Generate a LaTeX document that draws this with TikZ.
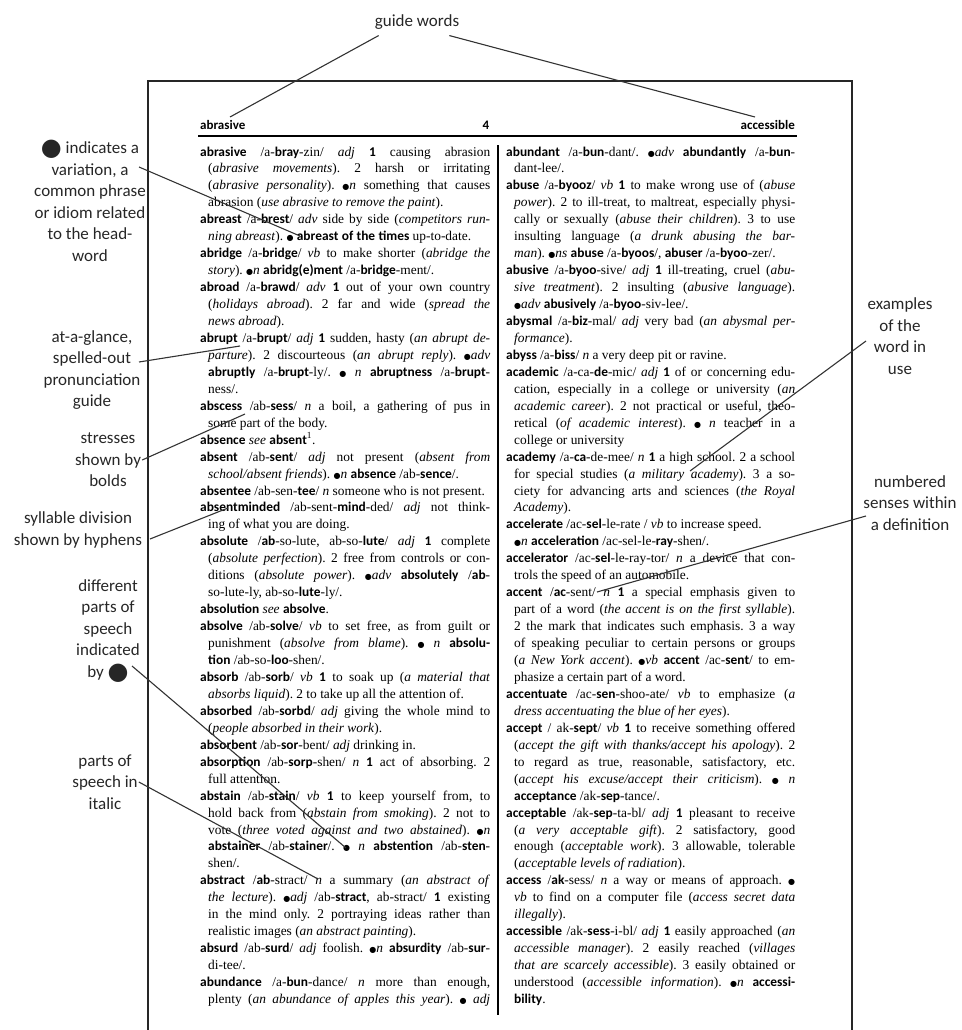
\documentclass[tikz,border=0pt]{standalone}
\usepackage{fontspec}
\setmainfont{Liberation Serif}
\setsansfont{Carlito}
\newfontfamily\symfont{DejaVu Sans}
\usetikzlibrary{positioning,calc}

\newdimen\colw
\newdimen\indw
\newcommand{\hw}[1]{{\sffamily\bfseries #1}}
\newcommand{\ps}[1]{\textit{#1}}
\newcommand{\ex}[1]{\textit{#1}}
\newcommand{\dt}{{\symfont\fontsize{8}{8}\selectfont ●}}
\newcommand{\fitline}[2]{\setbox0=\hbox{#2}%
  \ifdim\wd0>\colw\hbox{\resizebox{\colw}{\height}{\box0}}%
  \else\hbox to\colw{\unhbox0#1}\fi}
\newcommand{\LnF}[1]{\fitline{}{#1}}
\newcommand{\LnC}[1]{\fitline{}{\hskip\indw #1}}
\newcommand{\LnE}[1]{\fitline{\hfil}{\hskip\indw #1}}
\newcommand{\LnO}[1]{\fitline{\hfil}{#1}}
\newcommand{\bodyfont}{\fontsize{13.4}{16.95}\selectfont\frenchspacing
  \spaceskip=.25em plus .8em minus .08em\relax
  \lineskip=0pt\lineskiplimit=-100pt\indw=8pt}
\newcommand{\bigdot}{\raisebox{-2pt}{\fontsize{24}{10}\selectfont\symfont ●}}

\begin{document}
\begin{tikzpicture}[
    x=1pt, y=-1pt,
    frame/.style={line width=1.3pt, black!85},
    leader/.style={line width=1.1pt, black!80},
    lbl/.style={font=\fontsize{17}{21.5}\selectfont\sffamily, align=center, text=black!85, inner sep=0pt},
    guideword/.style={font=\fontsize{13}{15}\selectfont\sffamily\bfseries, inner sep=0pt},
    column/.style={inner sep=0pt, anchor=base west}
]
\useasboundingbox (0,0) rectangle (961,1030);

\draw[frame] (148,1030) -- (148,81) -- (852,81) -- (852,1030);

\node[guideword, anchor=base west] (gwl) at (200,130) {abrasive};
\node[guideword, anchor=base] (pgno) at (486,130) {4};
\node[guideword, anchor=base east] (gwr) at (795,130) {accessible};
\draw[line width=1.4pt] (198,136) -- (797,136);
\draw[line width=1.2pt] (498,145) -- (498,1015);

\node[column] (lcol) at (200,156) {\vtop{\bodyfont\colw=290pt
\LnF{\hw{abrasive} /a-\hw{bray}-zin/ \ps{adj} \hw{1} causing abrasion}
\LnC{(\ex{abrasive movements}). 2 harsh or irritating}
\LnC{(\ex{abrasive personality}). \dt\ps{n} something that causes}
\LnE{abrasion (\ex{use abrasive to remove the paint}).}
\LnF{\hw{abreast} /a-\hw{brest}/ \ps{adv} side by side (\ex{competitors run-}}
\LnE{\ex{ning abreast}). \dt\ \hw{abreast of the times} up-to-date.}
\LnF{\hw{abridge} /a-\hw{bridge}/ \ps{vb} to make shorter (\ex{abridge the}}
\LnE{\ex{story}). \dt\ps{n} \hw{abridg(e)ment} /a-\hw{bridge}-ment/.}
\LnF{\hw{abroad} /a-\hw{brawd}/ \ps{adv} \hw{1} out of your own country}
\LnC{(\ex{holidays abroad}). 2 far and wide (\ex{spread the}}
\LnE{\ex{news abroad}).}
\LnF{\hw{abrupt} /a-\hw{brupt}/ \ps{adj} \hw{1} sudden, hasty (\ex{an abrupt de-}}
\LnC{\ex{parture}). 2 discourteous (\ex{an abrupt reply}). \dt\ps{adv}}
\LnC{\hw{abruptly} /a-\hw{brupt}-ly/. \dt\ \ps{n} \hw{abruptness} /a-\hw{brupt}-}
\LnE{ness/.}
\LnF{\hw{abscess} /ab-\hw{sess}/ \ps{n} a boil, a gathering of pus in}
\LnE{some part of the body.}
\LnO{\hw{absence} \ps{see} \hw{absent}\textsuperscript{1}.}
\LnF{\hw{absent} /ab-\hw{sent}/ \ps{adj} not present (\ex{absent from}}
\LnE{\ex{school/absent friends}). \dt\ps{n} \hw{absence} /ab-\hw{sence}/.}
\LnO{\hw{absentee} /ab-sen-\hw{tee}/ \ps{n} someone who is not present.}
\LnF{\hw{absentminded} /ab-sent-\hw{mind}-ded/ \ps{adj} not think-}
\LnE{ing of what you are doing.}
\LnF{\hw{absolute} /\hw{ab}-so-lute, ab-so-\hw{lute}/ \ps{adj} \hw{1} complete}
\LnC{(\ex{absolute perfection}). 2 free from controls or con-}
\LnC{ditions (\ex{absolute power}). \dt\ps{adv} \hw{absolutely} /\hw{ab}-}
\LnE{so-lute-ly, ab-so-\hw{lute}-ly/.}
\LnO{\hw{absolution} \ps{see} \hw{absolve}.}
\LnF{\hw{absolve} /ab-\hw{solve}/ \ps{vb} to set free, as from guilt or}
\LnC{punishment (\ex{absolve from blame}). \dt\ \ps{n} \hw{absolu-}}
\LnE{\hw{tion} /ab-so-\hw{loo}-shen/.}
\LnF{\hw{absorb} /ab-\hw{sorb}/ \ps{vb} \hw{1} to soak up (\ex{a material that}}
\LnE{\ex{absorbs liquid}). 2 to take up all the attention of.}
\LnF{\hw{absorbed} /ab-\hw{sorbd}/ \ps{adj} giving the whole mind to}
\LnE{(\ex{people absorbed in their work}).}
\LnO{\hw{absorbent} /ab-\hw{sor}-bent/ \ps{adj} drinking in.}
\LnF{\hw{absorption} /ab-\hw{sorp}-shen/ \ps{n} \hw{1} act of absorbing. 2}
\LnE{full attention.}
\LnF{\hw{abstain} /ab-\hw{stain}/ \ps{vb} \hw{1} to keep yourself from, to}
\LnC{hold back from (\ex{abstain from smoking}). 2 not to}
\LnC{vote (\ex{three voted against and two abstained}). \dt\ps{n}}
\LnC{\hw{abstainer} /ab-\hw{stainer}/. \dt\ \ps{n} \hw{abstention} /ab-\hw{sten}-}
\LnE{shen/.}
\LnF{\hw{abstract} /\hw{ab}-stract/ \ps{n} a summary (\ex{an abstract of}}
\LnC{\ex{the lecture}). \dt\ps{adj} /ab-\hw{stract}, ab-stract/ \hw{1} existing}
\LnC{in the mind only. 2 portraying ideas rather than}
\LnE{realistic images (\ex{an abstract painting}).}
\LnF{\hw{absurd} /ab-\hw{surd}/ \ps{adj} foolish. \dt\ps{n} \hw{absurdity} /ab-\hw{sur}-}
\LnE{di-tee/.}
\LnF{\hw{abundance} /a-\hw{bun}-dance/ \ps{n} more than enough,}
\LnC{plenty (\ex{an abundance of apples this year}). \dt\ \ps{adj}}
}};

\node[column] (rcol) at (506,156) {\vtop{\bodyfont\colw=289pt
\LnF{\hw{abundant} /a-\hw{bun}-dant/. \dt\ps{adv} \hw{abundantly} /a-\hw{bun}-}
\LnE{dant-lee/.}
\LnF{\hw{abuse} /a-\hw{byooz}/ \ps{vb} \hw{1} to make wrong use of (\ex{abuse}}
\LnC{\ex{power}). 2 to ill-treat, to maltreat, especially physi-}
\LnC{cally or sexually (\ex{abuse their children}). 3 to use}
\LnC{insulting language (\ex{a drunk abusing the bar-}}
\LnE{\ex{man}). \dt\ps{ns} \hw{abuse} /a-\hw{byoos}/, \hw{abuser} /a-\hw{byoo}-zer/.}
\LnF{\hw{abusive} /a-\hw{byoo}-sive/ \ps{adj} \hw{1} ill-treating, cruel (\ex{abu-}}
\LnC{\ex{sive treatment}). 2 insulting (\ex{abusive language}).}
\LnE{\dt\ps{adv} \hw{abusively} /a-\hw{byoo}-siv-lee/.}
\LnF{\hw{abysmal} /a-\hw{biz}-mal/ \ps{adj} very bad (\ex{an abysmal per-}}
\LnE{\ex{formance}).}
\LnO{\hw{abyss} /a-\hw{biss}/ \ps{n} a very deep pit or ravine.}
\LnF{\hw{academic} /a-ca-\hw{de}-mic/ \ps{adj} \hw{1} of or concerning edu-}
\LnC{cation, especially in a college or university (\ex{an}}
\LnC{\ex{academic career}). 2 not practical or useful, theo-}
\LnC{retical (\ex{of academic interest}). \dt\ \ps{n} teacher in a}
\LnE{college or university}
\LnF{\hw{academy} /a-\hw{ca}-de-mee/ \ps{n} \hw{1} a high school. 2 a school}
\LnC{for special studies (\ex{a military academy}). 3 a so-}
\LnC{ciety for advancing arts and sciences (\ex{the Royal}}
\LnE{\ex{Academy}).}
\LnO{\hw{accelerate} /ac-\hw{sel}-le-rate / \ps{vb} to increase speed.}
\LnE{\dt\ps{n} \hw{acceleration} /ac-sel-le-\hw{ray}-shen/.}
\LnF{\hw{accelerator} /ac-\hw{sel}-le-ray-tor/ \ps{n} a device that con-}
\LnE{trols the speed of an automobile.}
\LnF{\hw{accent} /\hw{ac}-sent/ \ps{n} \hw{1} a special emphasis given to}
\LnC{part of a word (\ex{the accent is on the first syllable}).}
\LnC{2 the mark that indicates such emphasis. 3 a way}
\LnC{of speaking peculiar to certain persons or groups}
\LnC{(\ex{a New York accent}). \dt\ps{vb} \hw{accent} /ac-\hw{sent}/ to em-}
\LnE{phasize a certain part of a word.}
\LnF{\hw{accentuate} /ac-\hw{sen}-shoo-ate/ \ps{vb} to emphasize (\ex{a}}
\LnE{\ex{dress accentuating the blue of her eyes}).}
\LnF{\hw{accept} / ak-\hw{sept}/ \ps{vb} \hw{1} to receive something offered}
\LnC{(\ex{accept the gift with thanks/accept his apology}). 2}
\LnC{to regard as true, reasonable, satisfactory, etc.}
\LnC{(\ex{accept his excuse/accept their criticism}). \dt\ \ps{n}}
\LnE{\hw{acceptance} /ak-\hw{sep}-tance/.}
\LnF{\hw{acceptable} /ak-\hw{sep}-ta-bl/ \ps{adj} \hw{1} pleasant to receive}
\LnC{(\ex{a very acceptable gift}). 2 satisfactory, good}
\LnC{enough (\ex{acceptable work}). 3 allowable, tolerable}
\LnE{(\ex{acceptable levels of radiation}).}
\LnF{\hw{access} /\hw{ak}-sess/ \ps{n} a way or means of approach. \dt}
\LnC{\ps{vb} to find on a computer file (\ex{access secret data}}
\LnE{\ex{illegally}).}
\LnF{\hw{accessible} /ak-\hw{sess}-i-bl/ \ps{adj} \hw{1} easily approached (\ex{an}}
\LnC{\ex{accessible manager}). 2 easily reached (\ex{villages}}
\LnC{\ex{that are scarcely accessible}). 3 easily obtained or}
\LnC{understood (\ex{accessible information}). \dt\ps{n} \hw{accessi-}}
\LnE{\hw{bility}.}
}};

\node[lbl] (guide) at (417,22) {guide words};
\node[lbl] (indic) at (90,201) {\bigdot\ indicates a\\variation, a\\common phrase\\or idiom related\\to the head-\\word};
\node[lbl] (glance) at (92,370) {at-a-glance,\\spelled-out\\pronunciation\\guide};
\node[lbl] (stress) at (108,460) {stresses\\shown by\\bolds};
\node[lbl] (sylla) at (78,530) {syllable division\\shown by hyphens};
\node[lbl] (parts) at (108,631) {different\\parts of\\speech\\indicated\\by \bigdot};
\node[lbl] (ital) at (105,782) {parts of\\speech in\\italic};
\node[lbl] (exam) at (900,336) {examples\\of the\\word in\\use};
\node[lbl] (numb) at (910,503) {numbered\\senses within\\a definition};

\coordinate (guide-l) at (230,117);
\coordinate (guide-r) at (755,117);
\coordinate (indic-o) at (139,167);
\coordinate (indic-t) at (300,236);
\coordinate (glance-o) at (139,362);
\coordinate (glance-t) at (240,346);
\coordinate (stress-t) at (245,414);
\coordinate (sylla-o) at (150,539);
\coordinate (sylla-t) at (228,508);
\coordinate (parts-o) at (132,666);
\coordinate (parts-t) at (346,848);
\coordinate (ital-t) at (318,879);
\coordinate (exam-o) at (866,341);
\coordinate (exam-t) at (690,471);
\coordinate (numb-o) at (866,516);
\coordinate (numb-t) at (597,592);

\draw[leader] ([xshift=4pt,yshift=-6pt]guide.south west) -- (guide-l);
\draw[leader] ([xshift=-10pt,yshift=-6pt]guide.south east) -- (guide-r);
\draw[leader] (indic-o) -- (indic-t);
\draw[leader] (glance-o) -- (glance-t);
\draw[leader] ([xshift=1pt]stress.east) -- (stress-t);
\draw[leader] (sylla-o) -- (sylla-t);
\draw[leader] (parts-o) -- (parts-t);
\draw[leader] ([xshift=1pt]ital.east) -- (ital-t);
\draw[leader] (exam-o) -- (exam-t);
\draw[leader] (numb-o) -- (numb-t);

\end{tikzpicture}
\end{document}
